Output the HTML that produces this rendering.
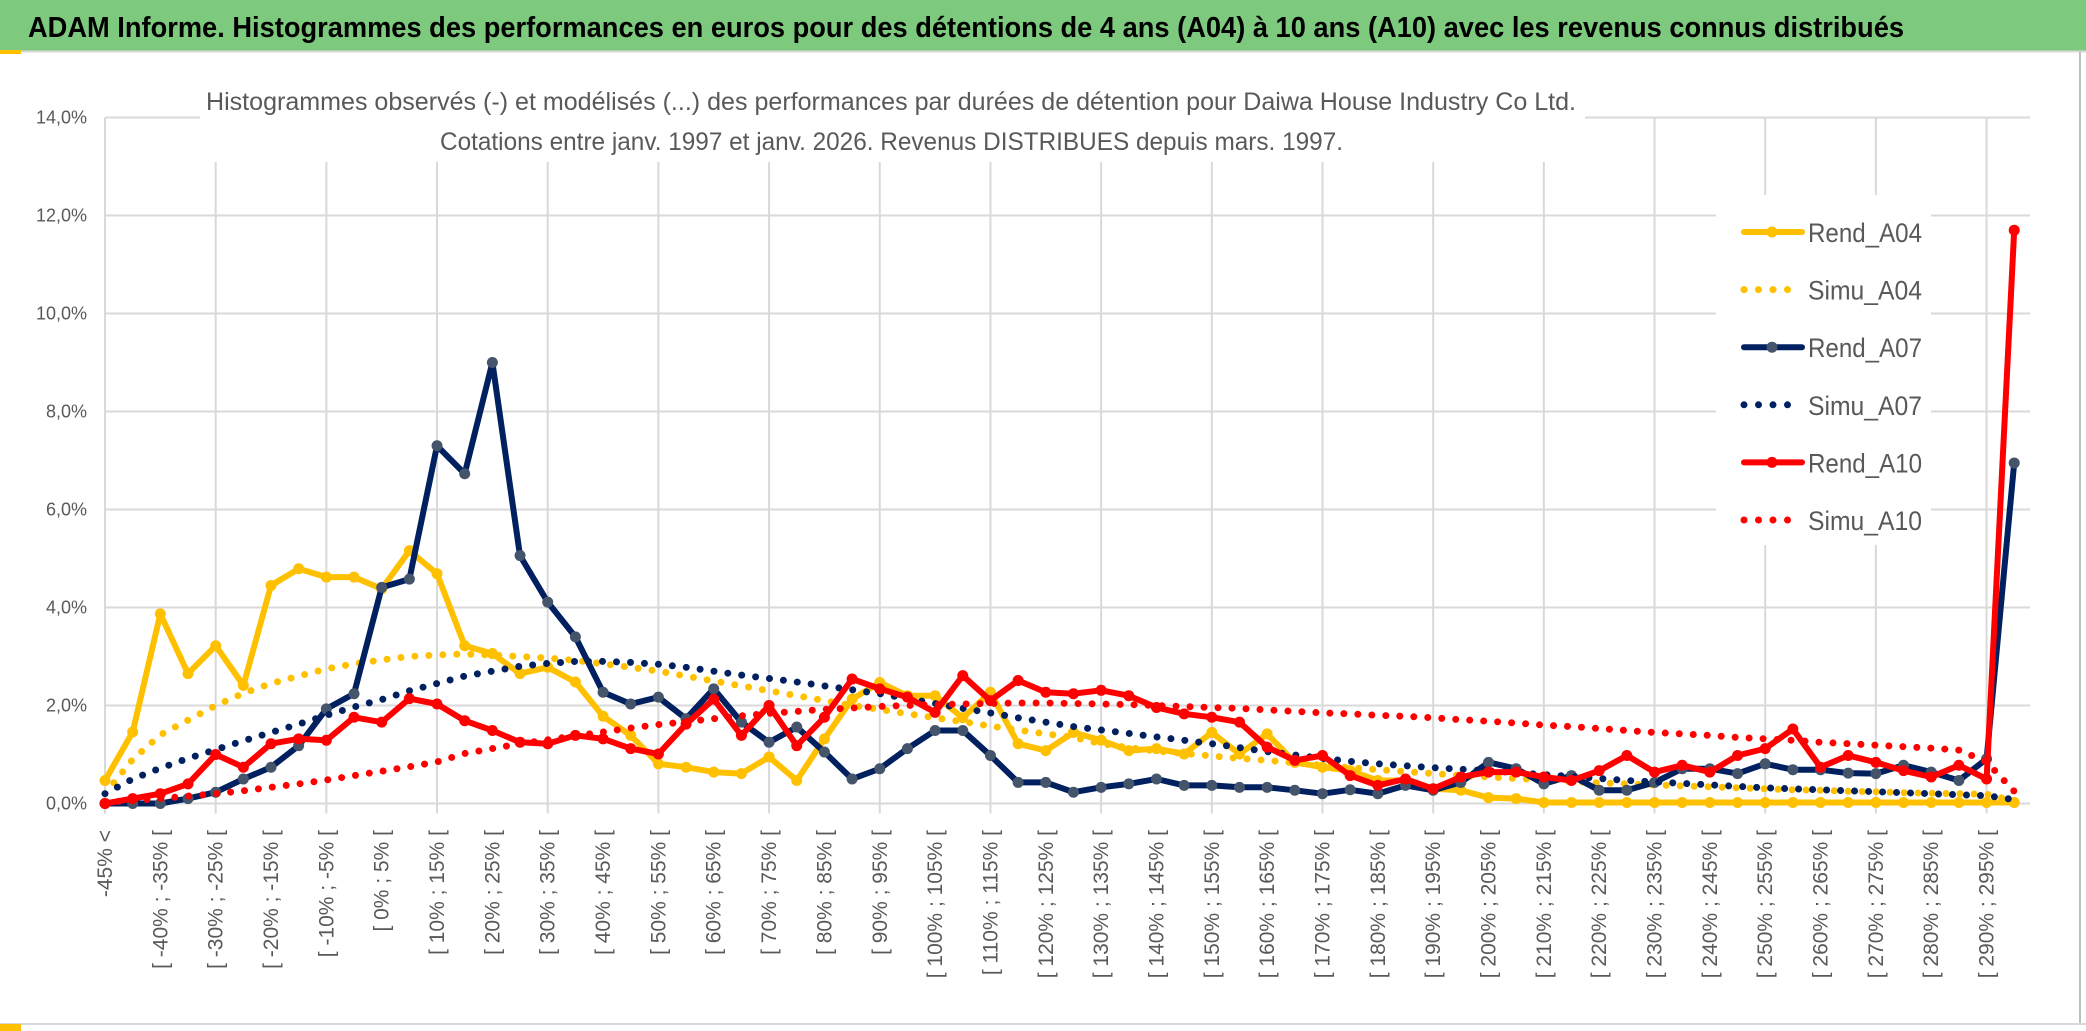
<!DOCTYPE html>
<html><head><meta charset="utf-8">
<style>
html,body{margin:0;padding:0;background:#fff;}
svg{display:block;font-family:"Liberation Sans",sans-serif;}
</style></head>
<body>
<svg id="chart" width="2086" height="1031" viewBox="0 0 2086 1031" xmlns="http://www.w3.org/2000/svg">
  <rect x="0" y="0" width="2086" height="1031" fill="#fff"/>
  <rect x="0" y="0" width="2086" height="51" fill="#7dca7e"/>
  <line x1="0" y1="51.5" x2="2086" y2="51.5" stroke="#d9d9d9" stroke-width="2"/>
  <rect x="0" y="50" width="21" height="4" fill="#ffc000"/>
  <text x="28" y="37" font-size="29" font-weight="bold" fill="#000" textLength="1876" lengthAdjust="spacingAndGlyphs">ADAM Informe. Histogrammes des performances en euros pour des détentions de 4 ans (A04) à 10 ans (A10) avec les revenus connus distribués</text>
  <g id="grid"></g>
  <rect x="200" y="72" width="1385" height="90" fill="#fff"/>
  <text x="206" y="110" font-size="25" fill="#595959" textLength="1370" lengthAdjust="spacingAndGlyphs">Histogrammes observés (-) et modélisés (...) des performances par durées de détention pour Daiwa House Industry Co Ltd.</text>
  <text x="440" y="150" font-size="25" fill="#595959" textLength="903" lengthAdjust="spacingAndGlyphs">Cotations entre janv. 1997 et janv. 2026. Revenus DISTRIBUES depuis mars. 1997.</text>
  <g id="yaxis"></g>
  <g id="xaxis"></g>
  <rect x="1716" y="195" width="215" height="350" fill="#fff"/>
  <g id="series"></g>
  <g id="legend"></g>
  <line x1="2080" y1="52" x2="2080" y2="1024" stroke="#bfbfbf" stroke-width="2"/>
  <line x1="0" y1="1024" x2="2086" y2="1024" stroke="#d9d9d9" stroke-width="2"/>
  <rect x="0" y="1024" width="21" height="7" fill="#ffc000"/>
</svg>
<script>
const yTicks = [0, 2, 4, 6, 8, 10, 12, 14];
const yTickLabels = ["0,0%", "2,0%", "4,0%", "6,0%", "8,0%", "10,0%", "12,0%", "14,0%"];
const categories = ["-45% <"];
for (let k = 1; k < 70; k++) { const a = -45 + 5 * (k - 1); categories.push("[ " + a + "% ; " + (a + 5) + "% ["); }
const rendA04 = [0.47,1.46,3.87,2.65,3.22,2.41,4.45,4.79,4.62,4.62,4.38,5.16,4.69,3.22,3.06,2.65,2.78,2.48,1.78,1.39,0.81,0.74,0.64,0.61,0.95,0.47,1.32,2.13,2.47,2.2,2.2,1.75,2.27,1.22,1.08,1.45,1.29,1.08,1.12,1.01,1.45,1.01,1.42,0.84,0.74,0.67,0.47,0.47,0.3,0.27,0.12,0.1,0.02,0.02,0.02,0.02,0.02,0.02,0.02,0.02,0.02,0.02,0.02,0.02,0.02,0.02,0.02,0.02,0.02,0.02];
const simuA04 = [0.2,0.9,1.4,1.7,2.0,2.25,2.45,2.6,2.75,2.85,2.93,3.0,3.03,3.05,3.03,3.0,2.97,2.92,2.85,2.78,2.7,2.6,2.5,2.4,2.3,2.2,2.1,2.0,1.92,1.83,1.75,1.67,1.58,1.5,1.42,1.35,1.22,1.14,1.07,1.02,0.97,0.92,0.88,0.83,0.78,0.73,0.69,0.65,0.61,0.57,0.54,0.51,0.48,0.45,0.42,0.4,0.38,0.36,0.34,0.32,0.3,0.28,0.27,0.25,0.24,0.22,0.21,0.2,0.19,0.05];
const rendA07 = [0.0,0.0,0.0,0.1,0.23,0.5,0.74,1.18,1.93,2.24,4.41,4.58,7.3,6.73,9.0,5.06,4.11,3.4,2.27,2.03,2.17,1.73,2.34,1.66,1.25,1.56,1.05,0.5,0.71,1.12,1.49,1.49,0.98,0.43,0.43,0.23,0.33,0.4,0.5,0.37,0.37,0.33,0.33,0.27,0.2,0.28,0.2,0.37,0.27,0.43,0.84,0.71,0.4,0.57,0.27,0.27,0.43,0.71,0.71,0.61,0.81,0.69,0.69,0.62,0.61,0.78,0.64,0.47,0.91,6.95];
const simuA07 = [0.2,0.5,0.72,0.92,1.1,1.28,1.45,1.62,1.8,1.97,2.12,2.3,2.45,2.6,2.7,2.8,2.86,2.9,2.9,2.88,2.84,2.78,2.7,2.62,2.55,2.48,2.4,2.32,2.24,2.14,2.04,1.94,1.85,1.75,1.66,1.57,1.5,1.43,1.36,1.29,1.22,1.14,1.06,0.99,0.92,0.86,0.81,0.77,0.73,0.7,0.67,0.63,0.59,0.55,0.51,0.47,0.44,0.41,0.38,0.35,0.32,0.3,0.28,0.26,0.24,0.22,0.2,0.18,0.16,0.08];
const rendA10 = [0.0,0.1,0.2,0.4,1.0,0.74,1.22,1.32,1.29,1.76,1.66,2.14,2.03,1.69,1.49,1.25,1.22,1.39,1.32,1.12,1.01,1.62,2.13,1.39,2.0,1.18,1.76,2.54,2.34,2.17,1.86,2.61,2.1,2.51,2.27,2.24,2.31,2.2,1.96,1.83,1.76,1.66,1.15,0.88,0.98,0.57,0.37,0.5,0.3,0.54,0.64,0.64,0.54,0.47,0.67,0.98,0.64,0.78,0.64,0.98,1.12,1.52,0.74,0.98,0.84,0.67,0.54,0.78,0.5,11.7];
const simuA10 = [0.03,0.06,0.1,0.15,0.2,0.26,0.33,0.4,0.48,0.57,0.66,0.75,0.85,1.02,1.12,1.22,1.3,1.38,1.46,1.54,1.61,1.67,1.73,1.79,1.84,1.88,1.92,1.95,1.98,2.0,2.02,2.03,2.04,2.05,2.05,2.04,2.03,2.02,2.0,1.98,1.96,1.94,1.91,1.88,1.85,1.83,1.8,1.78,1.75,1.71,1.68,1.64,1.6,1.57,1.53,1.49,1.45,1.42,1.39,1.35,1.32,1.29,1.25,1.22,1.19,1.16,1.13,1.09,0.85,0.25];
const seriesNames = ["Rend_A04","Simu_A04","Rend_A07","Simu_A07","Rend_A10","Simu_A10"];

const NS = "http://www.w3.org/2000/svg";
const X0 = 105, DX = 27.67, Y0 = 803.5, PY = 49;
function xs(i){ return X0 + DX * i; }
function ys(v){ return Y0 - PY * v; }
function mk(tag, attrs, parent){ const e = document.createElementNS(NS, tag); for (const k in attrs) e.setAttribute(k, attrs[k]); parent.appendChild(e); return e; }

const grid = document.getElementById('grid');
yTicks.forEach(function(t){
  const l = mk('line', {x1: X0, x2: 2030, y1: ys(t), y2: ys(t), stroke: '#d9d9d9', 'stroke-width': 2}, grid);
  
  
});
for (let i = 0; i < categories.length; i += 4) {
  const l = mk('line', {x1: xs(i), x2: xs(i), y1: ys(14), y2: Y0 + 10, stroke: '#d9d9d9', 'stroke-width': 2}, grid);
  
  
}

const yaxis = document.getElementById('yaxis');
yTicks.forEach(function(t, k){
  const tx = mk('text', {x: 87, y: ys(t) + 6, 'font-size': 18, fill: '#595959', 'text-anchor': 'end'}, yaxis);
  tx.textContent = yTickLabels[k];
  
  
});

const xaxis = document.getElementById('xaxis');
categories.forEach(function(c, i){
  if (i % 2 !== 0) return;
  const px = xs(i) + 7, py = 830;
  const tx = mk('text', {x: px, y: py, 'font-size': 21, fill: '#595959', 'text-anchor': 'end', transform: 'rotate(-90 ' + px + ' ' + py + ')'}, xaxis);
  tx.textContent = c;
  
  
});

const sg = document.getElementById('series');
function pathOf(arr){ return arr.map(function(v, i){ return (i ? 'L' : 'M') + xs(i).toFixed(1) + ' ' + ys(v).toFixed(1); }).join(' '); }
function drawRend(arr, color, mcolor, name){
  const g = mk('g', {}, sg);
  
  
  const p = mk('path', {d: pathOf(arr), fill: 'none', stroke: color, 'stroke-width': 6, 'stroke-linejoin': 'round', 'stroke-linecap': 'round'}, g);
  
  
  arr.forEach(function(v, i){
    const c = mk('circle', {cx: xs(i), cy: ys(v), r: 5.5, fill: mcolor}, g);
    
    
  });
}
function drawSimu(arr, color, name){
  const p = mk('path', {d: pathOf(arr), fill: 'none', stroke: color, 'stroke-width': 7, 'stroke-linecap': 'round', 'stroke-dasharray': '0 14'}, sg);
  
  
}
drawRend(rendA04, '#ffc000', '#ffc000', 'rend-a04');
drawSimu(simuA04, '#ffc000', 'simu-a04');
drawRend(rendA07, '#002060', '#44546a', 'rend-a07');
drawSimu(simuA07, '#002060', 'simu-a07');
drawRend(rendA10, '#ff0000', '#ff0000', 'rend-a10');
drawSimu(simuA10, '#ff0000', 'simu-a10');

const legend = document.getElementById('legend');
const legColors = ['#ffc000','#ffc000','#002060','#002060','#ff0000','#ff0000'];
const legMarkers = ['#ffc000',null,'#44546a',null,'#ff0000',null];
seriesNames.forEach(function(n, k){
  const y = 232 + 57.6 * k;
  const g = mk('g', {}, legend);
  
  
  if (k % 2 === 0) {
    mk('line', {x1: 1744, x2: 1802, y1: y, y2: y, stroke: legColors[k], 'stroke-width': 6, 'stroke-linecap': 'round'}, g);
    mk('circle', {cx: 1772, cy: y, r: 5.5, fill: legMarkers[k]}, g);
  } else {
    mk('line', {x1: 1744, x2: 1802, y1: y, y2: y, stroke: legColors[k], 'stroke-width': 7, 'stroke-linecap': 'round', 'stroke-dasharray': '0 14.5'}, g);
  }
  const t = mk('text', {x: 1808, y: y + 10, 'font-size': 27, fill: '#595959', textLength: 114, lengthAdjust: 'spacingAndGlyphs'}, g);
  t.textContent = n;
});
</script>
</body></html>
